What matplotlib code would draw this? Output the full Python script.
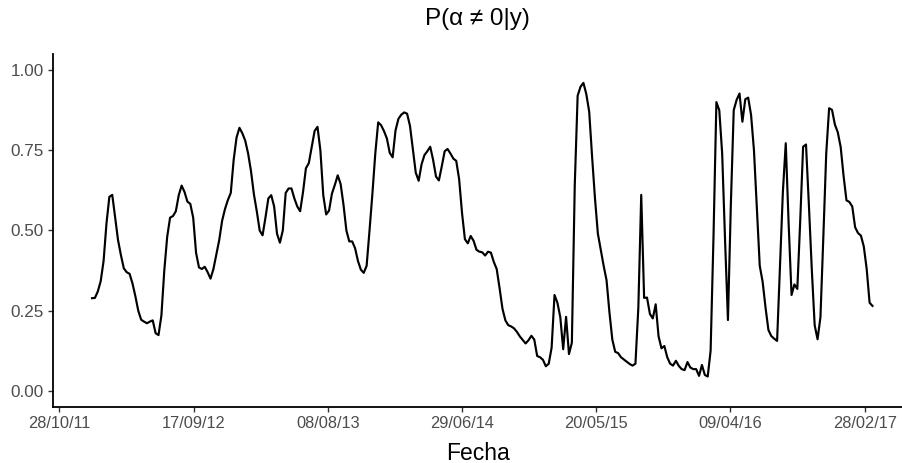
import matplotlib
matplotlib.use("Agg")
import matplotlib.pyplot as plt
import matplotlib.dates as mdates
import numpy as np
import pandas as pd

# ---------------- data ----------------
start_date = "2012-01-15"   # first weekly observation
freq = "7D"
prob = [
    0.289, 0.290, 0.310, 0.342, 0.405, 0.522, 0.605, 0.611, 0.540, 0.470,
    0.423, 0.382, 0.370, 0.365, 0.335, 0.295, 0.250, 0.222, 0.216, 0.211,
    0.216, 0.220, 0.180, 0.174, 0.235, 0.375, 0.480, 0.540, 0.545, 0.560,
    0.610, 0.640, 0.620, 0.590, 0.583, 0.540, 0.430, 0.385, 0.380, 0.387,
    0.370, 0.350, 0.380, 0.425, 0.470, 0.530, 0.567, 0.595, 0.617, 0.720,
    0.790, 0.820, 0.803, 0.780, 0.740, 0.685, 0.613, 0.560, 0.500, 0.485,
    0.540, 0.600, 0.610, 0.575, 0.490, 0.462, 0.500, 0.617, 0.631, 0.631,
    0.600, 0.575, 0.560, 0.620, 0.694, 0.710, 0.760, 0.810, 0.823, 0.750,
    0.610, 0.550, 0.562, 0.615, 0.642, 0.672, 0.645, 0.580, 0.500, 0.466,
    0.466, 0.445, 0.405, 0.378, 0.368, 0.390, 0.500, 0.615, 0.740, 0.837,
    0.828, 0.810, 0.787, 0.742, 0.728, 0.812, 0.848, 0.861, 0.868, 0.864,
    0.826, 0.752, 0.680, 0.655, 0.706, 0.735, 0.747, 0.761, 0.720, 0.668,
    0.656, 0.700, 0.747, 0.754, 0.740, 0.724, 0.717, 0.660, 0.555, 0.473,
    0.460, 0.483, 0.468, 0.440, 0.434, 0.432, 0.422, 0.434, 0.431, 0.402,
    0.380, 0.320, 0.256, 0.220, 0.205, 0.201, 0.195, 0.184, 0.170, 0.159,
    0.148, 0.158, 0.172, 0.160, 0.109, 0.105, 0.097, 0.077, 0.085, 0.135,
    0.299, 0.275, 0.230, 0.130, 0.231, 0.115, 0.150, 0.640, 0.920, 0.948,
    0.960, 0.925, 0.870, 0.730, 0.600, 0.490, 0.440, 0.390, 0.345, 0.245,
    0.160, 0.122, 0.118, 0.105, 0.098, 0.091, 0.084, 0.079, 0.085, 0.260,
    0.611, 0.290, 0.291, 0.240, 0.226, 0.270, 0.170, 0.133, 0.140, 0.105,
    0.085, 0.079, 0.094, 0.078, 0.068, 0.065, 0.090, 0.073, 0.068, 0.068,
    0.047, 0.081, 0.050, 0.045, 0.125, 0.480, 0.900, 0.875, 0.740, 0.470,
    0.221, 0.580, 0.875, 0.907, 0.927, 0.839, 0.909, 0.914, 0.860, 0.750,
    0.570, 0.390, 0.340, 0.260, 0.190, 0.171, 0.163, 0.156, 0.390, 0.620,
    0.772, 0.520, 0.299, 0.332, 0.318, 0.530, 0.761, 0.768, 0.580, 0.380,
    0.205, 0.161, 0.230, 0.480, 0.740, 0.881, 0.876, 0.830, 0.806, 0.760,
    0.670, 0.594, 0.589, 0.575, 0.510, 0.492, 0.484, 0.450, 0.380, 0.275,
    0.265,
]
x_tick_labels = ["28/10/11", "17/09/12", "08/08/13", "29/06/14",
                 "20/05/15", "09/04/16", "28/02/17"]
y_ticks = [0.00, 0.25, 0.50, 0.75, 1.00]
title = "P(α ≠ 0|y)"
x_title = "Fecha"

# ---------------- plot ----------------
dates = pd.date_range(start_date, periods=len(prob), freq=freq)
tick_dates = pd.to_datetime(x_tick_labels, format="%d/%m/%y")

W, H = 902, 463
fig = plt.figure(figsize=(W / 100, H / 100), dpi=100)
plt.rcParams["font.family"] = ["Liberation Sans", "DejaVu Sans"]

left, right, bottom, top = 53, 911.5, 407, 54
ax = fig.add_axes([left / W, 1 - bottom / H, (right - left) / W, (bottom - top) / H])

ax.plot(dates, prob, color="black", linewidth=1.55, solid_joinstyle="round")

span = dates[-1] - dates[0]
pad = span * 0.05
ax.set_xlim(dates[0] - pad, dates[-1] + pad)
ax.set_ylim(-0.05, 1.05)

ax.set_xticks(tick_dates)
ax.set_xticklabels(x_tick_labels)
ax.set_yticks(y_ticks)
ax.set_yticklabels([f"{v:.2f}" for v in y_ticks])

for s in ["top", "right"]:
    ax.spines[s].set_visible(False)
for s in ["left", "bottom"]:
    ax.spines[s].set_linewidth(1.3)
    ax.spines[s].set_color("black")

ax.tick_params(axis="both", direction="out", length=3.5, width=1.0,
               color="#333333", labelcolor="#4D4D4D")
ax.tick_params(axis="x", pad=3, labelsize=11.8)
ax.tick_params(axis="y", pad=3, labelsize=12.3)

fig.text((left + 902) / 2 / W, 1 - 453 / H, x_title, ha="center", va="center",
         fontsize=16.5, color="black")
fig.text((left + 902) / 2 / W, 1 - 19 / H, title, ha="center", va="center",
         fontsize=17.5, color="black")

fig.savefig("out.png", dpi=100)
